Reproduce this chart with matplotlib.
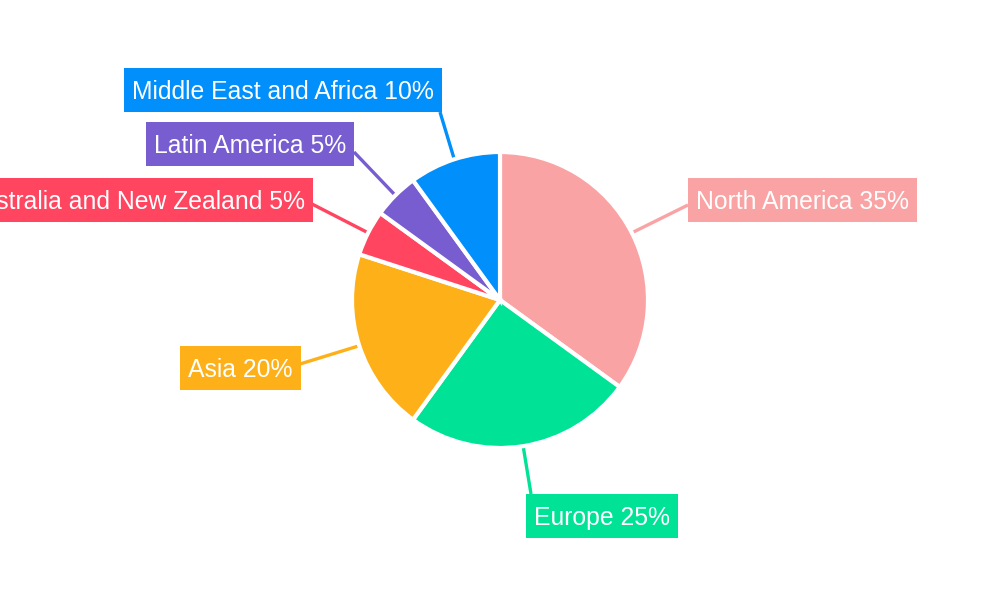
import matplotlib.pyplot as plt
from matplotlib.patches import Rectangle
import numpy as np

regions = ['North America', 'Europe', 'Asia', 'Australia and New Zealand',
           'Latin America', 'Middle East and Africa']
shares = [35, 25, 20, 5, 5, 10]
colors = ['#F9A3A4', '#00E396', '#FEB019', '#FF4560', '#775DD0', '#008FFB']

# label text anchor (pixel coords, y from top) and alignment
label_pos = [(696, 200, 'left'), (534, 516, 'left'), (188, 368, 'left'),
             (305, 200, 'right'), (154, 144, 'left'), (132, 90, 'left')]
line_end = [(688, 205), (531, 494), (300, 364), (312, 204), (354, 152), (440, 112)]

plt.rcParams['font.family'] = ['Liberation Sans', 'DejaVu Sans']

fig = plt.figure(figsize=(10, 6), dpi=100)
ax = fig.add_axes([0, 0, 1, 1])

cx, cy, r = 500, 300, 148
wedges, _ = ax.pie(shares, colors=colors, startangle=90, counterclock=False,
                   center=(cx, cy), radius=r, frame=True,
                   wedgeprops=dict(edgecolor='white', linewidth=3))
ax.set_xlim(0, 1000)
ax.set_ylim(0, 600)
ax.set_aspect('equal')
ax.axis('off')

texts = []
for w, name, s, c, (tx, ty, ha), (ex, ey) in zip(wedges, regions, shares, colors,
                                                  label_pos, line_end):
    mid = np.deg2rad((w.theta1 + w.theta2) / 2)
    sx, sy = cx + r * np.cos(mid), cy + r * np.sin(mid)
    ax.plot([sx, ex], [sy, 600 - ey], color=c, lw=2.4, zorder=0, solid_capstyle='butt')
    t = ax.text(tx, 600 - ty - 2, f'{name} {s}%', ha=ha, va='center', color='white',
                fontsize=17.8, zorder=5)
    texts.append((t, c, ty))

# boxes sized from the rendered text (axes units == pixels)
fig.canvas.draw()
rend = fig.canvas.get_renderer()
for t, c, ty in texts:
    bb = t.get_window_extent(rend)
    ax.add_patch(Rectangle((bb.x0 - 8, 600 - ty - 22), bb.width + 16, 44,
                           fc=c, ec='none', zorder=4))

fig.savefig('out.png', dpi=100)
